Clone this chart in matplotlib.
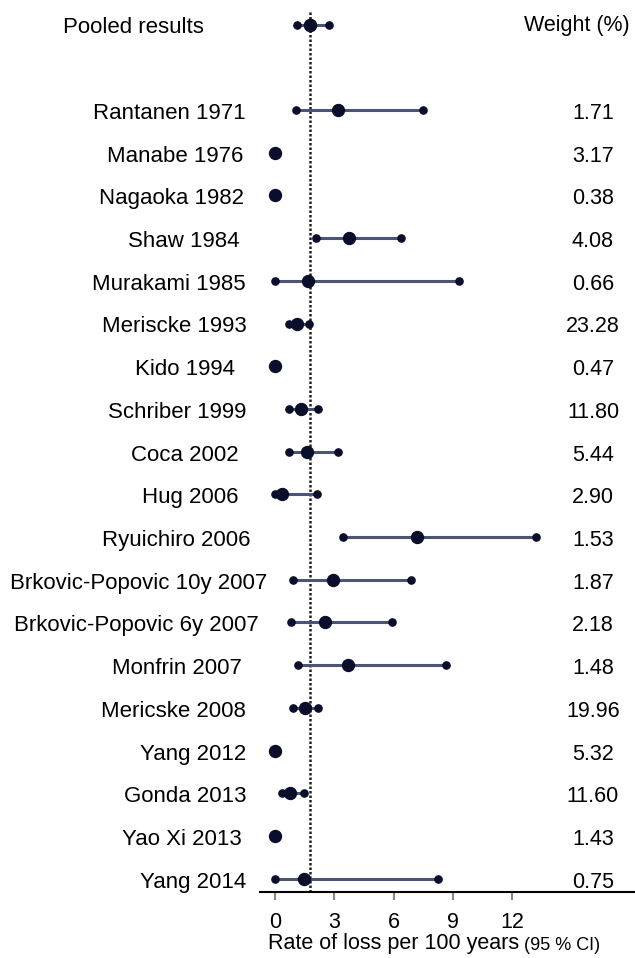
import matplotlib
matplotlib.use("Agg")
import matplotlib.pyplot as plt
from matplotlib import transforms

plt.rcParams['font.family'] = ['Liberation Sans', 'DejaVu Sans']

# Data
studies = ["Rantanen 1971", "Manabe 1976", "Nagaoka 1982", "Shaw 1984",
           "Murakami 1985", "Meriscke 1993", "Kido 1994", "Schriber 1999",
           "Coca 2002", "Hug 2006", "Ryuichiro 2006",
           "Brkovic-Popovic 10y 2007", "Brkovic-Popovic 6y 2007",
           "Monfrin 2007", "Mericske 2008", "Yang 2012", "Gonda 2013",
           "Yao Xi 2013", "Yang 2014"]
rate = [3.20, 0.0, 0.0, 3.76, 1.69, 1.13, 0.0, 1.30, 1.64, 0.37, 7.17,
        2.95, 2.55, 3.71, 1.52, 0.0, 0.76, 0.0, 1.47]
ci_low = [1.05, 0.0, 0.0, 2.07, 0.0, 0.73, 0.0, 0.71, 0.71, 0.0, 3.46,
          0.93, 0.81, 1.18, 0.93, 0.0, 0.34, 0.0, 0.0]
ci_high = [7.50, 0.0, 0.0, 6.40, 9.32, 1.72, 0.0, 2.19, 3.21, 2.14, 13.20,
           6.89, 5.92, 8.66, 2.19, 0.0, 1.49, 0.0, 8.27]
weights = ["1.71", "3.17", "0.38", "4.08", "0.66", "23.28", "0.47", "11.80",
           "5.44", "2.90", "1.53", "1.87", "2.18", "1.48", "19.96", "5.32",
           "11.60", "1.43", "0.75"]
pooled = (1.10, 1.77, 2.73)  # low, estimate, high
xticks = [0, 3, 6, 9, 12]

# layout: right edge (px) of each study label, as placed in the reference
label_right = [246, 243, 244, 240, 246, 247, 235, 246, 239, 238, 251,
               267, 259, 242, 246, 246, 247, 242, 246]

LINE_C = "#4b5378"
DOT_C = "#0b0e2a"

W, H = 635, 958
fig = plt.figure(figsize=(W / 100, H / 100), dpi=100)
ax = fig.add_axes([260 / W, (H - 892) / H, 375 / W, 882 / H])

rows = list(range(len(studies)))
pooled_row = -2

# study CIs and estimates
for y, lo, est, hi in zip(rows, ci_low, rate, ci_high):
    ax.plot([lo, hi], [y, y], color=LINE_C, lw=2.2, solid_capstyle='butt', zorder=2)
    ax.plot([lo, hi], [y, y], 'o', color=DOT_C, ms=5.2, zorder=3)
    ax.plot(est, y, 'o', color=DOT_C, ms=8.6, zorder=4)

# pooled estimate
ax.plot([pooled[0], pooled[2]], [pooled_row] * 2, color=LINE_C, lw=2.2, zorder=2)
ax.plot([pooled[0], pooled[2]], [pooled_row] * 2, 'o', color=DOT_C, ms=5.2, zorder=3)
ax.plot(pooled[1], pooled_row, 'o', color=DOT_C, ms=8.8, zorder=4)

ax.axvline(pooled[1], color="#222222", lw=1.8, ls=(0, (1, 0.8)), zorder=1)

ax.set_xlim(-15 / 19.75, 360 / 19.75)
ax.set_ylim(18.31, -2.34)
ax.set_yticks([])
ax.set_xticks(xticks)
ax.set_xticklabels([str(t) for t in xticks], fontsize=15.5)
ax.tick_params(axis='x', direction='out', length=5.5, width=1.5,
               color="#888888", pad=9)
for side in ("left", "right", "top"):
    ax.spines[side].set_visible(False)
ax.spines['bottom'].set_linewidth(1.5)
ax.spines['bottom'].set_color("black")
ax.patch.set_alpha(0)

# text columns
trans = transforms.blended_transform_factory(fig.transFigure, ax.transData)
for y, name, w, xr in zip(rows, studies, weights, label_right):
    fig.text(xr / W, y + 0.08, name, transform=trans, ha='right',
             va='center', fontsize=16)
    fig.text(593 / W, y + 0.08, w, transform=trans, ha='center',
             va='center', fontsize=15.5)

fig.text(63 / W, pooled_row + 0.08, "Pooled results", transform=trans,
         ha='left', va='center', fontsize=16)
fig.text(630 / W, pooled_row + 0.02, "Weight (%)", transform=trans,
         ha='right', va='center', fontsize=15.5)

xl = fig.text(268 / W, (H - 943) / H, "Rate of loss per 100 years",
              ha='left', va='center', fontsize=15.5)
ax.annotate(" (95 % CI)", xy=(1, 0), xycoords=xl, ha='left', va='bottom',
            fontsize=13)

fig.savefig("out.png", dpi=100)
